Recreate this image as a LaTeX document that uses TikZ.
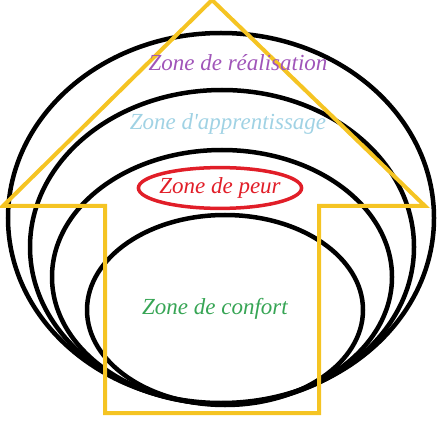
\documentclass[tikz,border=0pt]{standalone}
\usepackage{fontspec}
\setmainfont{Liberation Serif}
\usetikzlibrary{shapes.geometric}
\definecolor{houseyellow}{RGB}{245,196,35}
\definecolor{realcol}{RGB}{160,85,185}
\definecolor{apprcol}{RGB}{160,210,228}
\definecolor{peurcol}{RGB}{225,30,40}
\definecolor{confcol}{RGB}{55,165,85}
\begin{document}
\begin{tikzpicture}[x=1pt,y=-1pt,
         ring/.style={draw=black, line width=4.5pt},
         zonelabel/.style={font=\itshape\fontsize{23}{23}\selectfont,
                           inner sep=0pt, outer sep=0pt, anchor=center},
         ]
\useasboundingbox (0,0) rectangle (441,438);
% zones
\draw[ring] (221,218) ellipse [x radius=213, y radius=185];
\draw[ring] (222,247) ellipse [x radius=192, y radius=157];
\draw[ring] (222,277) ellipse [x radius=170, y radius=127];
\draw[ring] (225,310) ellipse [x radius=138, y radius=95];
% house
\draw[houseyellow, line width=4pt]
    (105,413) -- (105,206) -- (3,206) -- (212,0) -- (425,206)
    -- (319,206) -- (319,413) -- cycle;
\node[zonelabel, text=realcol] (realisation) at (238,63) {Zone de réalisation};
\node[zonelabel, text=apprcol] (apprentissage) at (228,124) {Zone d\textquotesingle apprentissage};
\node[zonelabel, text=peurcol, draw=peurcol, ellipse, line width=3.5pt,
      inner xsep=-3pt, inner ysep=4pt, minimum width=158pt, minimum height=38pt] (peur) at (220,188) {Zone de peur};
\node[zonelabel, text=confcol] (confort) at (215,309) {Zone de confort};
\end{tikzpicture}
\end{document}
